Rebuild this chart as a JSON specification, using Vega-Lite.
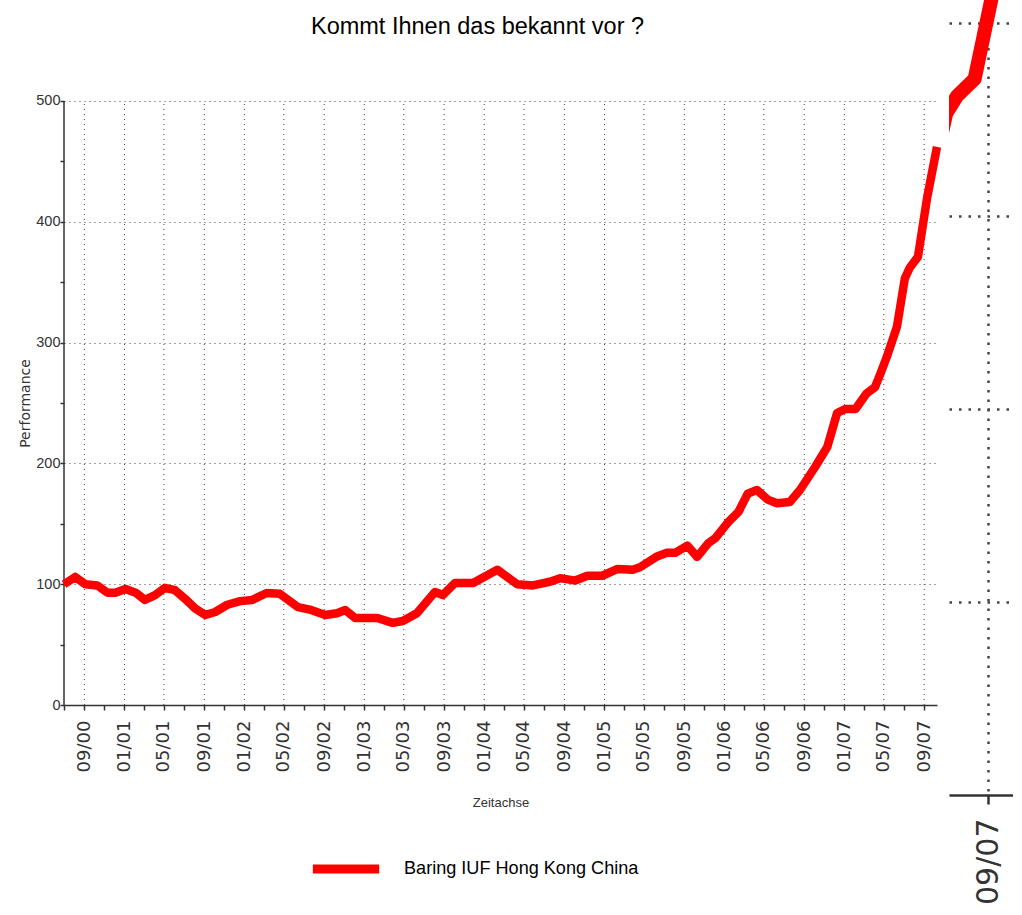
{
  "$schema": "https://vega.github.io/schema/vega-lite/v6.json",
  "padding": {"left": 18, "top": 0, "right": 0, "bottom": 0},
  "background": "white",
  "spacing": 7,
  "config": {
    "view": {"stroke": null},
    "axis": {
      "domainColor": "#333333",
      "domainWidth": 1.5,
      "tickColor": "#333333",
      "tickWidth": 1.5,
      "gridColor": "#444444",
      "gridDash": [1, 4],
      "gridWidth": 1
    }
  },
  "resolve": {"scale": {"color": "independent"}, "legend": {"color": "independent"}},
  "datasets": {
    "perf": [
      {"Datum": "2000-07-01", "Performance": 100},
      {"Datum": "2000-08-04", "Performance": 106},
      {"Datum": "2000-09-04", "Performance": 100},
      {"Datum": "2000-10-10", "Performance": 99},
      {"Datum": "2000-11-10", "Performance": 93},
      {"Datum": "2000-12-04", "Performance": 93},
      {"Datum": "2001-01-04", "Performance": 96},
      {"Datum": "2001-02-04", "Performance": 93},
      {"Datum": "2001-03-04", "Performance": 87},
      {"Datum": "2001-04-04", "Performance": 91},
      {"Datum": "2001-05-04", "Performance": 97},
      {"Datum": "2001-06-04", "Performance": 95},
      {"Datum": "2001-07-04", "Performance": 88},
      {"Datum": "2001-08-04", "Performance": 80},
      {"Datum": "2001-09-04", "Performance": 74.5},
      {"Datum": "2001-10-04", "Performance": 77},
      {"Datum": "2001-11-10", "Performance": 83},
      {"Datum": "2001-12-19", "Performance": 86},
      {"Datum": "2002-01-25", "Performance": 87},
      {"Datum": "2002-03-10", "Performance": 92.7},
      {"Datum": "2002-04-19", "Performance": 92},
      {"Datum": "2002-06-13", "Performance": 81},
      {"Datum": "2002-07-19", "Performance": 79},
      {"Datum": "2002-09-04", "Performance": 74.5},
      {"Datum": "2002-10-10", "Performance": 76},
      {"Datum": "2002-11-04", "Performance": 78.6},
      {"Datum": "2002-12-04", "Performance": 72},
      {"Datum": "2003-02-10", "Performance": 72},
      {"Datum": "2003-03-28", "Performance": 68},
      {"Datum": "2003-04-28", "Performance": 69.5},
      {"Datum": "2003-06-10", "Performance": 76},
      {"Datum": "2003-08-04", "Performance": 93.5},
      {"Datum": "2003-08-28", "Performance": 91},
      {"Datum": "2003-10-04", "Performance": 101},
      {"Datum": "2003-11-28", "Performance": 101},
      {"Datum": "2004-02-10", "Performance": 112},
      {"Datum": "2004-04-10", "Performance": 100},
      {"Datum": "2004-05-28", "Performance": 99},
      {"Datum": "2004-07-19", "Performance": 102},
      {"Datum": "2004-08-19", "Performance": 105},
      {"Datum": "2004-10-04", "Performance": 103},
      {"Datum": "2004-11-10", "Performance": 107},
      {"Datum": "2004-12-25", "Performance": 107},
      {"Datum": "2005-02-10", "Performance": 112.6},
      {"Datum": "2005-03-28", "Performance": 112},
      {"Datum": "2005-04-19", "Performance": 114},
      {"Datum": "2005-06-10", "Performance": 123},
      {"Datum": "2005-07-10", "Performance": 126},
      {"Datum": "2005-08-04", "Performance": 126},
      {"Datum": "2005-09-10", "Performance": 132},
      {"Datum": "2005-10-10", "Performance": 122.6},
      {"Datum": "2005-11-13", "Performance": 134},
      {"Datum": "2005-12-04", "Performance": 138},
      {"Datum": "2006-01-10", "Performance": 150.6},
      {"Datum": "2006-02-13", "Performance": 160},
      {"Datum": "2006-03-13", "Performance": 175},
      {"Datum": "2006-04-10", "Performance": 178},
      {"Datum": "2006-05-13", "Performance": 170},
      {"Datum": "2006-06-10", "Performance": 167},
      {"Datum": "2006-07-19", "Performance": 168},
      {"Datum": "2006-08-19", "Performance": 178},
      {"Datum": "2006-10-04", "Performance": 197},
      {"Datum": "2006-11-10", "Performance": 213.6},
      {"Datum": "2006-12-10", "Performance": 241.7},
      {"Datum": "2007-01-04", "Performance": 245},
      {"Datum": "2007-02-04", "Performance": 245},
      {"Datum": "2007-03-10", "Performance": 258},
      {"Datum": "2007-04-04", "Performance": 263},
      {"Datum": "2007-04-19", "Performance": 273},
      {"Datum": "2007-05-10", "Performance": 288},
      {"Datum": "2007-06-10", "Performance": 313},
      {"Datum": "2007-07-04", "Performance": 353},
      {"Datum": "2007-07-19", "Performance": 362},
      {"Datum": "2007-08-13", "Performance": 371},
      {"Datum": "2007-09-10", "Performance": 420},
      {"Datum": "2007-10-10", "Performance": 462}
    ]
  },
  "hconcat": [
    {
      "width": 873,
      "height": 705,
      "title": {
        "text": "Kommt Ihnen das bekannt vor ?",
        "font": "Liberation Sans, sans-serif",
        "fontSize": 23.5,
        "fontWeight": "normal",
        "color": "#000000",
        "anchor": "middle",
        "dx": -23,
        "offset": -38
      },
      "layer": [
        {
          "data": {
            "values": [
              {"Gitter": "2000-09-01", "Unten": 0, "Oben": 500},
              {"Gitter": "2001-01-01", "Unten": 0, "Oben": 500},
              {"Gitter": "2001-05-01", "Unten": 0, "Oben": 500},
              {"Gitter": "2001-09-01", "Unten": 0, "Oben": 500},
              {"Gitter": "2002-01-01", "Unten": 0, "Oben": 500},
              {"Gitter": "2002-05-01", "Unten": 0, "Oben": 500},
              {"Gitter": "2002-09-01", "Unten": 0, "Oben": 500},
              {"Gitter": "2003-01-01", "Unten": 0, "Oben": 500},
              {"Gitter": "2003-05-01", "Unten": 0, "Oben": 500},
              {"Gitter": "2003-09-01", "Unten": 0, "Oben": 500},
              {"Gitter": "2004-01-01", "Unten": 0, "Oben": 500},
              {"Gitter": "2004-05-01", "Unten": 0, "Oben": 500},
              {"Gitter": "2004-09-01", "Unten": 0, "Oben": 500},
              {"Gitter": "2005-01-01", "Unten": 0, "Oben": 500},
              {"Gitter": "2005-05-01", "Unten": 0, "Oben": 500},
              {"Gitter": "2005-09-01", "Unten": 0, "Oben": 500},
              {"Gitter": "2006-01-01", "Unten": 0, "Oben": 500},
              {"Gitter": "2006-05-01", "Unten": 0, "Oben": 500},
              {"Gitter": "2006-09-01", "Unten": 0, "Oben": 500},
              {"Gitter": "2007-01-01", "Unten": 0, "Oben": 500},
              {"Gitter": "2007-05-01", "Unten": 0, "Oben": 500},
              {"Gitter": "2007-09-01", "Unten": 0, "Oben": 500}
            ]
          },
          "mark": {"type": "rule", "color": "#444444", "strokeWidth": 1, "strokeDash": [1, 4]},
          "encoding": {
            "x": {
              "field": "Gitter",
              "type": "temporal",
              "scale": {
                "type": "utc",
                "domain": [
                  {"year": 2000, "month": 7, "date": 1, "utc": true},
                  {"year": 2007, "month": 10, "date": 10, "utc": true}
                ]
              },
              "axis": {
                "title": "Zeitachse",
                "titleFont": "Liberation Sans, sans-serif",
                "titleFontSize": 13,
                "titleFontWeight": "normal",
                "titleColor": "#333333",
                "titleY": 97,
                "titleBaseline": "middle",
                "tickCount": {"interval": "month", "step": 2},
                "labelExpr": "utcmonth(datum.value) % 4 == 0 ? utcFormat(datum.value, '%m/%y') : ''",
                "labelAngle": 270,
                "labelFont": "DejaVu Sans",
                "labelFontSize": 18,
                "labelColor": "#333333",
                "labelPadding": 10,
                "labelOverlap": false,
                "labelFlush": false,
                "tickSize": 5,
                "grid": false
              }
            },
            "y": {
              "field": "Unten",
              "type": "quantitative",
              "scale": {"domain": [0, 583.6], "nice": false},
              "axis": {
                "title": "Performance",
                "titleFont": "DejaVu Sans",
                "titleFontSize": 14,
                "titleFontWeight": "normal",
                "titleColor": "#333333",
                "titleX": -39,
                "titleY": 403,
                "titleBaseline": "middle",
                "values": [0, 50, 100, 150, 200, 250, 300, 350, 400, 450, 500],
                "labelExpr": "datum.value % 100 == 0 ? datum.label : ''",
                "labelFont": "Liberation Sans, sans-serif",
                "labelFontSize": 14.5,
                "labelColor": "#333333",
                "labelPadding": 0,
                "tickSize": 4,
                "domain": false,
                "grid": true,
                "gridOpacity": {"condition": {"test": "datum.value % 100 == 0", "value": 1}, "value": 0}
              }
            },
            "y2": {"field": "Oben"}
          }
        },
        {
          "data": {"values": [{"Start": "2000-07-01", "Unten": 0, "Oben": 500}]},
          "mark": {"type": "rule", "color": "#333333", "strokeWidth": 1.5},
          "encoding": {
            "x": {"field": "Start", "type": "temporal"},
            "y": {"field": "Unten", "type": "quantitative"},
            "y2": {"field": "Oben"}
          }
        },
        {
          "data": {"name": "perf"},
          "transform": [{"calculate": "'Baring IUF Hong Kong China'", "as": "Fonds"}],
          "mark": {"type": "line", "strokeWidth": 8.5, "strokeJoin": "round", "strokeCap": "butt"},
          "encoding": {
            "x": {"field": "Datum", "type": "temporal"},
            "y": {"field": "Performance", "type": "quantitative"},
            "color": {
              "field": "Fonds",
              "type": "nominal",
              "scale": {"range": ["#ff0000"]},
              "legend": {
                "title": null,
                "orient": "none",
                "legendX": 244,
                "legendY": 831,
                "symbolType": "stroke",
                "symbolSize": 4400,
                "symbolStrokeWidth": 9,
                "labelFont": "Liberation Sans, sans-serif",
                "labelFontSize": 18.1,
                "labelColor": "#000000",
                "labelOffset": 20,
                "labelLimit": 400
              }
            }
          }
        }
      ]
    },
    {
      "width": 64,
      "height": 795,
      "data": {"name": "perf"},
      "mark": {"type": "line", "strokeWidth": 14, "strokeJoin": "round", "color": "#ff0000", "clip": true},
      "encoding": {
        "x": {
          "field": "Datum",
          "type": "temporal",
          "scale": {
            "type": "utc",
            "domain": [
              {"year": 2007, "month": 7, "date": 8, "utc": true},
              {"year": 2007, "month": 10, "date": 6, "utc": true}
            ]
          },
          "axis": {
            "title": null,
            "tickCount": {"interval": "month", "step": 2},
            "labelExpr": "utcmonth(datum.value) % 4 == 0 ? utcFormat(datum.value, '%m/%y') : ''",
            "labelAngle": 270,
            "labelFont": "DejaVu Sans",
            "labelFontSize": 30,
            "labelColor": "#333333",
            "labelPadding": 14,
            "labelOverlap": false,
            "labelFlush": false,
            "domainWidth": 2.5,
            "tickWidth": 2.5,
            "tickSize": 9,
            "grid": true,
            "gridWidth": 2.5,
            "gridDash": [2.5, 7],
            "gridOpacity": {"condition": {"test": "utcmonth(datum.value) % 4 == 0", "value": 1}, "value": 0}
          }
        },
        "y": {
          "field": "Performance",
          "type": "quantitative",
          "scale": {"domain": [0, 411.9], "nice": false},
          "axis": {
            "title": null,
            "values": [100, 200, 300, 400],
            "labels": false,
            "ticks": false,
            "domain": false,
            "grid": true,
            "gridWidth": 2.5,
            "gridDash": [2.5, 7]
          }
        }
      }
    }
  ]
}
